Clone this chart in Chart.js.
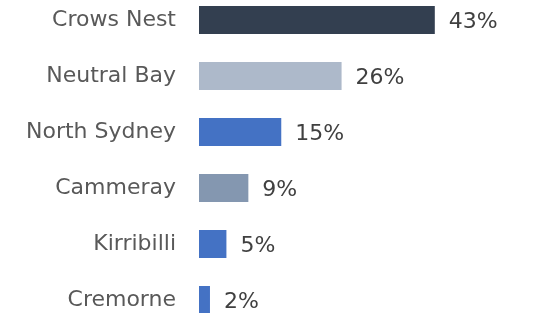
<!DOCTYPE html>
<html>
<head>
<meta charset="utf-8">
<script src="https://cdn.jsdelivr.net/npm/chart.js@4/dist/chart.umd.min.js"></script>
<style>
  html, body { margin: 0; padding: 0; background: #fff; overflow: hidden; }
  #chart { position: absolute; left: 0; top: -8px; }
</style>
</head>
<body>
<canvas id="chart" width="539" height="336"></canvas>
<script>
const suburbs = ['Crows Nest', 'Neutral Bay', 'North Sydney', 'Cammeray', 'Kirribilli', 'Cremorne'];
const shares = [43, 26, 15, 9, 5, 2];
const barColors = ['#333F50', '#ADB9CA', '#4472C4', '#8497B0', '#4472C4', '#4472C4'];

const FONT = "'DejaVu Sans', sans-serif";

// draws "43%" etc. just past the end of each bar
const valueLabels = {
  id: 'valueLabels',
  afterDatasetsDraw(chart) {
    const ctx = chart.ctx;
    const meta = chart.getDatasetMeta(0);
    ctx.save();
    ctx.font = '22px ' + FONT;
    ctx.fillStyle = '#404040';
    ctx.textAlign = 'left';
    ctx.textBaseline = 'middle';
    meta.data.forEach((bar, i) => {
      ctx.fillText(shares[i] + '%', bar.x + 14, bar.y + 2);
    });
    ctx.restore();
  }
};

new Chart(document.getElementById('chart'), {
  type: 'bar',
  data: {
    labels: suburbs,
    datasets: [{
      data: shares,
      backgroundColor: barColors,
      barPercentage: 0.5,
      categoryPercentage: 1
    }]
  },
  options: {
    indexAxis: 'y',
    responsive: false,
    animation: false,
    layout: { padding: 0 },
    plugins: { legend: { display: false }, tooltip: { enabled: false } },
    scales: {
      x: { min: 0, max: 62, display: false },
      y: {
        grid: { display: false },
        border: { display: false },
        afterFit(scale) {
          scale.width = 199;
          scale.paddingTop = 0;
          scale.paddingBottom = 0;
        },
        ticks: { color: '#595959', padding: 15, font: { family: FONT, size: 22 } }
      }
    }
  },
  plugins: [valueLabels]
});
</script>
</body>
</html>
